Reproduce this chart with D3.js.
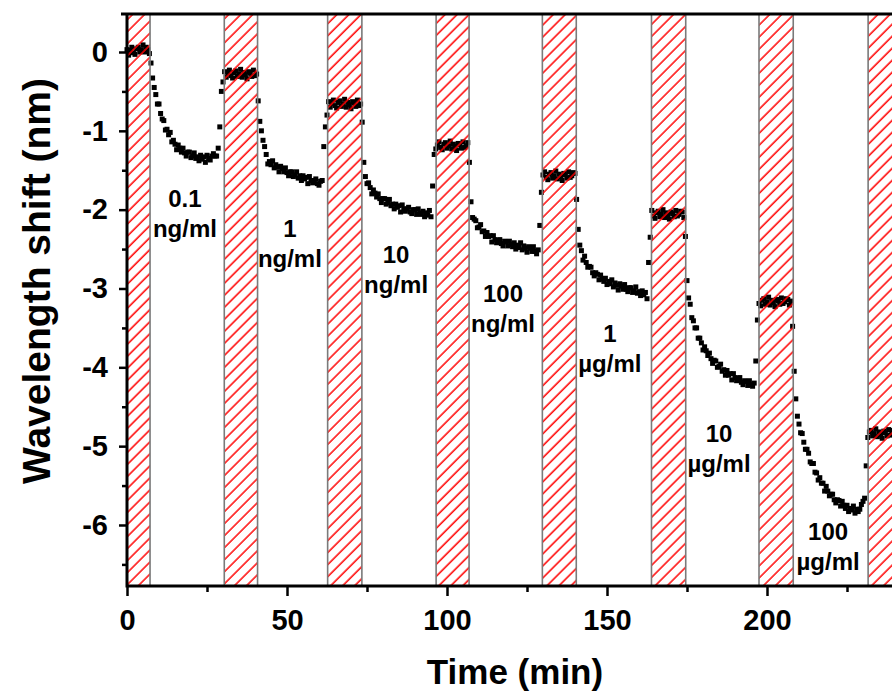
<!DOCTYPE html>
<html>
<head>
<meta charset="UTF-8">
<title>Wavelength shift</title>
<script src="https://cdn.jsdelivr.net/npm/d3@7"></script>
<style>
  body { margin: 0; background: #fff; }
  text { font-family: Arial, "Liberation Sans", sans-serif; font-weight: bold; fill: #000; }
</style>
</head>
<body>
<svg width="892" height="691"></svg>
<script>
// buffer (hatched) intervals, minutes
var bandStart = [0, 30.4, 62.7, 96.6, 129.8, 163.9, 197.5, 231.6];
var bandEnd   = [7.2, 40.8, 73.4, 106.9, 140.4, 174.6, 208.2, 260];

// each run of readings starts at the matching cycle time, one reading per 0.5 min
var cycleStart = [0, 30.5, 63, 96.5, 130, 164, 197.5, 231.5];
var sampleStep = 0.5;

var shift1 = [0.03, -0.04, 0.02, 0.06, -0.01, -0.03, 0.04, 0.06, 0.00, 0.03, 0.09, 0.00, 0.06, 0.03, -0.02,
  -0.14, -0.33, -0.45, -0.54, -0.66, -0.66, -0.78, -0.85, -0.87, -0.99, -0.98, -1.05, -1.02,
  -1.14, -1.12, -1.17, -1.24, -1.18, -1.22, -1.27, -1.22, -1.28, -1.32, -1.27, -1.27, -1.34,
  -1.32, -1.28, -1.35, -1.33, -1.38, -1.31, -1.36, -1.33, -1.40, -1.31, -1.35, -1.37, -1.32,
  -1.29, -1.32, -1.32, -1.22, -0.95, -0.50, -0.38];
var shift2 = [-0.25, -0.32, -0.27, -0.23, -0.30, -0.33, -0.26, -0.24, -0.31, -0.28, -0.22, -0.32, -0.26, -0.29, -0.34, -0.25, -0.27, -0.31, -0.23, -0.30, -0.28,
  -0.62, -0.88, -1.00, -1.12, -1.20,
  -1.30, -1.42, -1.39, -1.43, -1.38, -1.47, -1.43, -1.46, -1.52, -1.45, -1.48, -1.52,
  -1.47, -1.53, -1.57, -1.52, -1.52, -1.58, -1.56, -1.52, -1.60, -1.57, -1.63, -1.57,
  -1.61, -1.59, -1.67, -1.58, -1.63, -1.66, -1.63, -1.61, -1.67, -1.69, -1.64,
  -1.63, -1.20, -0.95, -0.80];
var shift3 = [-0.63, -0.70, -0.65, -0.61, -0.68, -0.71, -0.64, -0.62, -0.69, -0.66, -0.60, -0.70, -0.64, -0.67, -0.72, -0.63, -0.65, -0.69, -0.61, -0.68, -0.66,
  -0.89, -1.40, -1.58,
  -1.67, -1.66, -1.72, -1.80, -1.75, -1.79, -1.84, -1.80, -1.86, -1.91, -1.86, -1.86, -1.93,
  -1.91, -1.87, -1.95, -1.93, -1.99, -1.93, -1.97, -1.95, -2.03, -1.94, -1.99, -2.02, -1.99,
  -1.97, -2.03, -2.05, -2.00, -2.00, -2.06, -1.99, -2.04, -2.06, -2.02, -2.09, -2.04, -2.07,
  -2.01, -2.09, -1.70, -1.30];
var shift4 = [-1.23, -1.18, -1.14, -1.21, -1.24, -1.17, -1.15, -1.22, -1.19, -1.13, -1.23, -1.17, -1.20, -1.25, -1.16, -1.18, -1.22, -1.14, -1.21, -1.19, -1.15,
  -1.40, -1.90, -2.10,
  -2.12, -2.14, -2.23, -2.22, -2.19, -2.28, -2.27, -2.34, -2.29, -2.34, -2.33, -2.41, -2.33,
  -2.38, -2.42, -2.39, -2.38, -2.43, -2.46, -2.40, -2.41, -2.46, -2.40, -2.44, -2.47, -2.42,
  -2.50, -2.45, -2.48, -2.42, -2.51, -2.46, -2.49, -2.54, -2.47, -2.49, -2.53, -2.47, -2.53,
  -2.56, -2.51, -2.20, -1.78];
var shift5 = [-1.56, -1.52, -1.59, -1.62, -1.55, -1.53, -1.60, -1.57, -1.51, -1.61, -1.55, -1.58, -1.63, -1.54, -1.56, -1.60, -1.52, -1.59, -1.57, -1.53, -1.54,
  -1.87, -2.25, -2.45,
  -2.52, -2.64, -2.59, -2.67, -2.73, -2.72, -2.73, -2.80, -2.84, -2.80, -2.82, -2.89, -2.83,
  -2.88, -2.91, -2.87, -2.95, -2.91, -2.94, -2.89, -2.98, -2.93, -2.96, -3.02, -2.94, -2.97,
  -3.01, -2.95, -3.01, -3.04, -2.99, -2.99, -3.05, -3.03, -2.98, -3.06, -3.04, -3.09, -3.03,
  -3.08, -3.05, -3.13, -2.67, -2.35];
var shift6 = [-2.01, -2.08, -2.11, -2.04, -2.02, -2.09, -2.06, -2.00, -2.10, -2.04, -2.07, -2.12, -2.03, -2.05, -2.09, -2.01, -2.08, -2.06, -2.02, -2.03, -2.10, -2.34,
  -2.90, -3.12,
  -3.20, -3.37, -3.41, -3.50, -3.50, -3.63, -3.63, -3.69, -3.78, -3.74, -3.79, -3.85, -3.82,
  -3.89, -3.95, -3.91, -3.92, -4.00, -3.99, -3.96, -4.05, -4.03, -4.10, -4.04, -4.10, -4.08,
  -4.16, -4.08, -4.13, -4.17, -4.14, -4.13, -4.19, -4.22, -4.17, -4.18, -4.23, -4.17, -4.22,
  -4.24, -4.20, -3.92, -3.40];
var shift7 = [-3.19, -3.22, -3.15, -3.13, -3.20, -3.17, -3.11, -3.21, -3.15, -3.18, -3.23, -3.14, -3.16, -3.20, -3.12, -3.19, -3.17, -3.13, -3.14, -3.21, -3.16, -3.48,
  -4.05, -4.40, -4.62,
  -4.72, -4.83, -4.84, -4.95, -5.04, -5.04, -5.09, -5.20, -5.22, -5.22, -5.33, -5.34, -5.43,
  -5.40, -5.47, -5.47, -5.57, -5.51, -5.57, -5.63, -5.61, -5.61, -5.68, -5.72, -5.68, -5.69,
  -5.76, -5.70, -5.75, -5.79, -5.75, -5.83, -5.79, -5.81, -5.76, -5.85, -5.80, -5.83,
  -5.80, -5.74, -5.70, -5.66, -5.25];
var shift8 = [-4.89, -4.82, -4.80, -4.87, -4.84, -4.78, -4.88, -4.82, -4.85, -4.90, -4.81, -4.83, -4.87, -4.79, -4.86, -4.84, -4.80, -4.81];
var runs = [shift1, shift2, shift3, shift4, shift5, shift6, shift7, shift8];

// concentration labels: two lines each, anchored at (minutes, nm)
var concValue = ["0.1", "1", "10", "100", "1", "10", "100"];
var concUnit  = ["ng/ml", "ng/ml", "ng/ml", "ng/ml", "\u00b5g/ml", "\u00b5g/ml", "\u00b5g/ml"];
var concTime  = [18.1, 50.9, 84.1, 117.5, 150.9, 185, 219.1];
var concShift = [-1.97, -2.35, -2.68, -3.17, -3.68, -4.95, -6.19];

var xTicks = [0, 50, 100, 150, 200];
var yTicks = [0, -1, -2, -3, -4, -5, -6];

var svg = d3.select("svg");
var plotLeft = 127, plotTop = 14, plotBottom = 586;

var x = d3.scaleLinear().domain([0, 250]).range([plotLeft, plotLeft + 250 * 3.2]);
var y = d3.scaleLinear().domain([-6.774, 0.482]).range([plotBottom, plotTop]);

var points = [];
runs.forEach(function(run, i) {
  run.forEach(function(v, j) {
    points.push({t: cycleStart[i] + j * sampleStep, v: v});
  });
});

var defs = svg.append("defs");
var pat = defs.append("pattern")
  .attr("id", "hatch")
  .attr("patternUnits", "userSpaceOnUse")
  .attr("width", 8.5).attr("height", 8.5)
  .attr("patternTransform", "rotate(45)");
pat.append("line")
  .attr("x1", 2).attr("y1", 0).attr("x2", 2).attr("y2", 8.5)
  .attr("stroke", "#ff0000").attr("stroke-width", 1.5);

// data points
svg.append("g").selectAll("rect")
  .data(points)
  .enter().append("rect")
  .attr("x", function(d) { return x(d.t) - 2.5; })
  .attr("y", function(d) { return y(d.v) - 2.5; })
  .attr("width", 5).attr("height", 5)
  .attr("fill", "#000");

// hatched buffer bands on top of the points
svg.append("g").selectAll("rect")
  .data(bandStart)
  .enter().append("rect")
  .attr("x", function(d) { return x(d); })
  .attr("y", plotTop)
  .attr("width", function(d, i) { return x(bandEnd[i]) - x(d); })
  .attr("height", plotBottom - plotTop)
  .attr("fill", "url(#hatch)")
  .attr("stroke", "#7a7a7a")
  .attr("stroke-width", 1.6);

// axes (plain hyphen for negatives, like the original)
var fmt = function(d) { return String(d); };
var xAxis = d3.axisBottom(x).tickValues(xTicks).tickSize(10).tickPadding(13).tickFormat(fmt);
var gx = svg.append("g").attr("transform", "translate(0," + plotBottom + ")").call(xAxis);
gx.selectAll(".tick line").attr("stroke-width", 2.5);
gx.selectAll(".tick text").style("font-size", "29px");
gx.select(".domain").remove();
svg.append("g").attr("transform", "translate(0," + plotBottom + ")")
  .call(d3.axisBottom(x).tickValues([25, 75, 125, 175, 225]).tickSize(6).tickFormat(""))
  .call(function(g) { g.select(".domain").remove(); g.selectAll("line").attr("stroke-width", 2.5); });

var yAxis = d3.axisLeft(y).tickValues(yTicks).tickSize(8).tickPadding(11).tickFormat(fmt);
var gy = svg.append("g").attr("transform", "translate(" + plotLeft + ",0)").call(yAxis);
gy.selectAll(".tick line").attr("stroke-width", 2.5);
gy.selectAll(".tick text").style("font-size", "29px");
gy.select(".domain").remove();
svg.append("g").attr("transform", "translate(" + plotLeft + ",0)")
  .call(d3.axisLeft(y).tickValues([-0.5, -1.5, -2.5, -3.5, -4.5, -5.5, -6.5]).tickSize(5).tickFormat(""))
  .call(function(g) { g.select(".domain").remove(); g.selectAll("line").attr("stroke-width", 2.5); });

// frame lines
svg.append("line").attr("x1", plotLeft).attr("x2", 892).attr("y1", plotBottom).attr("y2", plotBottom)
  .attr("stroke", "#000").attr("stroke-width", 3);
svg.append("line").attr("x1", plotLeft - 6).attr("x2", 892).attr("y1", plotTop).attr("y2", plotTop)
  .attr("stroke", "#000").attr("stroke-width", 3);
svg.append("line").attr("x1", plotLeft).attr("x2", plotLeft).attr("y1", plotTop).attr("y2", plotBottom + 1.5)
  .attr("stroke", "#000").attr("stroke-width", 3);

// concentration labels
var lab = svg.append("g").selectAll("text")
  .data(concValue)
  .enter().append("text")
  .attr("text-anchor", "middle")
  .style("font-size", "24px")
  .attr("x", function(d, i) { return x(concTime[i]); })
  .attr("y", function(d, i) { return y(concShift[i]); });
lab.append("tspan").text(function(d) { return d; });
lab.append("tspan")
  .attr("x", function(d, i) { return x(concTime[i]); })
  .attr("dy", 30)
  .text(function(d, i) { return concUnit[i]; });

// axis titles
svg.append("text")
  .attr("x", 515).attr("y", 684)
  .attr("text-anchor", "middle")
  .style("font-size", "35px")
  .text("Time (min)");
svg.append("text")
  .attr("transform", "translate(50,281) rotate(-90)")
  .attr("text-anchor", "middle")
  .style("font-size", "39px")
  .text("Wavelength shift (nm)");
</script>
</body>
</html>
